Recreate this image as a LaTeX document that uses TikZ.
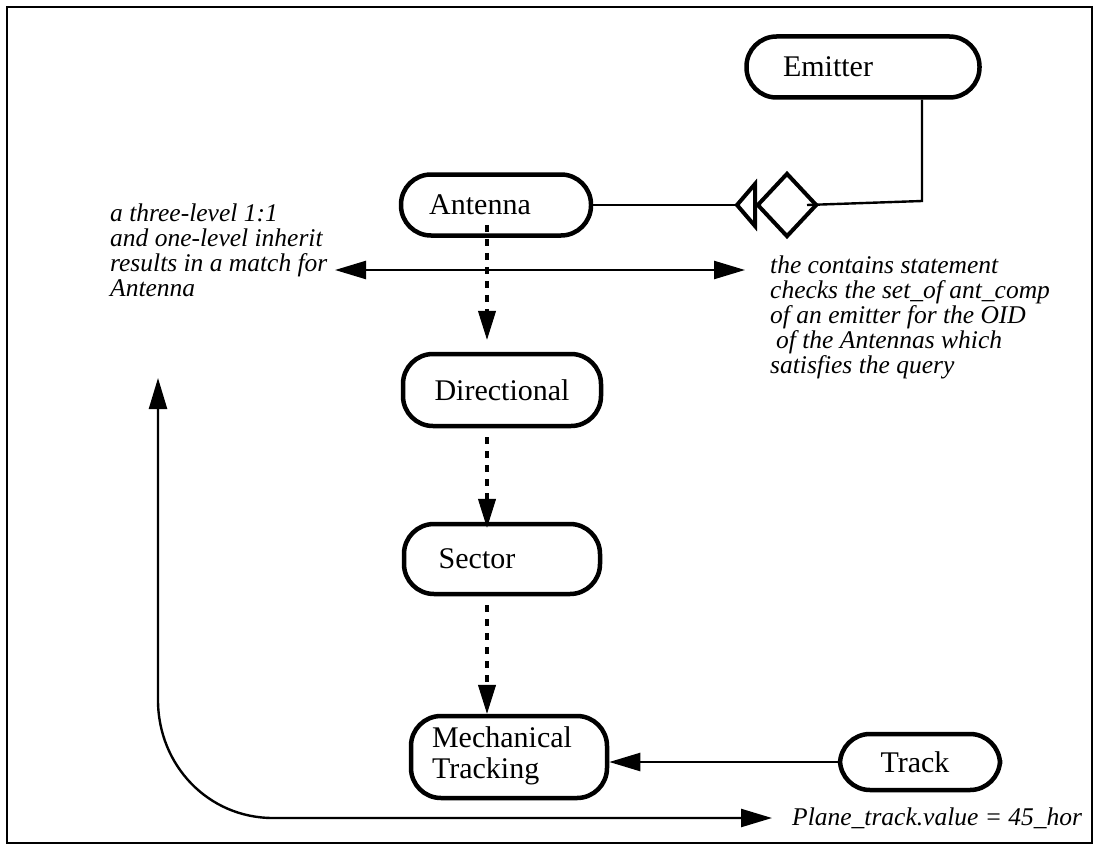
\documentclass[tikz,border=0pt]{standalone}
\usepackage{fontspec}
\setmainfont{Liberation Serif}
\usetikzlibrary{arrows.meta,shapes.geometric}
\begin{document}
\begin{tikzpicture}[x=1pt,y=-1pt,
  pill/.style={draw, line width=4.5pt, rounded corners=30pt, inner sep=0pt,
    font=\fontsize{30}{31}\selectfont, align=center},
  anno/.style={font=\fontsize{25.5}{25}\selectfont\itshape, align=left, inner sep=0pt},
  conn/.style={line width=2.4pt},
  headed/.style={conn, -{Triangle[length=31pt,width=18pt]}},
  twohead/.style={conn, {Triangle[length=31pt,width=18pt]}-{Triangle[length=31pt,width=18pt]}},
  dotarrow/.style={line width=3.6pt, dash pattern=on 7pt off 7pt,
    -{Triangle[length=29pt,width=18pt,line width=1pt]}},
  frame/.style={line width=2.8pt}
]
\useasboundingbox (0,0) rectangle (1097,848);
\draw[frame] (7,7) rectangle (1092,843);

% nodes
\node[pill, minimum width=233pt, minimum height=61pt] (emitter) at (863,67) {Emitter\kern70pt};
\node[pill, minimum width=190pt, minimum height=61pt] (antenna) at (496,205) {Antenna\kern32pt};
\node[pill, minimum width=198pt, minimum height=72pt] (directional) at (502,390) {Directional};
\node[pill, minimum width=196pt, minimum height=70pt] (sector) at (502,559) {Sector\kern50pt};
\node[pill, minimum width=196pt, minimum height=82pt] (mech) at (509,757)
  {\begin{tabular}{@{}l@{}}Mechanical\\Tracking\end{tabular}\kern14pt};
\node[pill, minimum width=160pt, minimum height=56pt] (track) at (920,762) {Track\kern10pt};

% diamond with open triangle
\node[draw, diamond, line width=4pt, minimum width=60pt, minimum height=64pt, inner sep=0pt] (dia) at (787,205) {};
\coordinate (tri) at (737,205);
\draw[line width=4pt, line join=miter] (tri) -- ++(18,-21) -- ++(0,42) -- cycle;
\draw[conn] (antenna.east) -- (tri);
\coordinate (bend) at (922,201);
\draw[conn] (emitter.south -| bend) -- (bend) -- ([xshift=-12pt]dia.east);

% dotted inheritance arrows
\coordinate (colx) at (487,0);
\path (antenna.south -| colx) ++(0,-13) coordinate (a1);
\path (directional.north -| colx) ++(0,-12) coordinate (a2);
\path (directional.south -| colx) ++(0,9) coordinate (b1);
\path (sector.north -| colx) ++(0,6) coordinate (b2);
\path (sector.south -| colx) ++(0,9) coordinate (c1);
\draw[dotarrow] (a1) -- (a2);
\draw[dotarrow] (b1) -- (b2);
\draw[dotarrow] (c1) -- (mech.north -| colx);

% track to mechanical
\draw[headed] (track.west) -- (track.west -| mech.east);

% horizontal double arrow
\coordinate (hl) at (335,270);
\coordinate (hr) at (745,270);
\draw[twohead] (hl) -- (hr);

% curved double arrow
\coordinate (ct) at (158,378);
\coordinate (cv) at (158,700);
\coordinate (cq1) at (158,765);
\coordinate (cq2) at (208,818);
\coordinate (ch) at (273,818);
\coordinate (cb) at (772,818);
\draw[twohead] (ct) -- (cv) .. controls (cq1) and (cq2) .. (ch) -- (cb);

% annotations
\node[anno, anchor=north west] (lefttext) at (110,204)
  {a three-level 1:1\\and one-level inherit\\results in a match for\\Antenna};
\node[anno, anchor=north west] (righttext) at (770,256)
  {the contains statement\\checks the set\_of ant\_comp\\of an emitter for the OID\\\hspace*{6pt}of the Antennas which\\satisfies the query};
\node[anno, anchor=base west] (plane) at (792,825) {Plane\_track.value = 45\_hor};
\end{tikzpicture}
\end{document}
